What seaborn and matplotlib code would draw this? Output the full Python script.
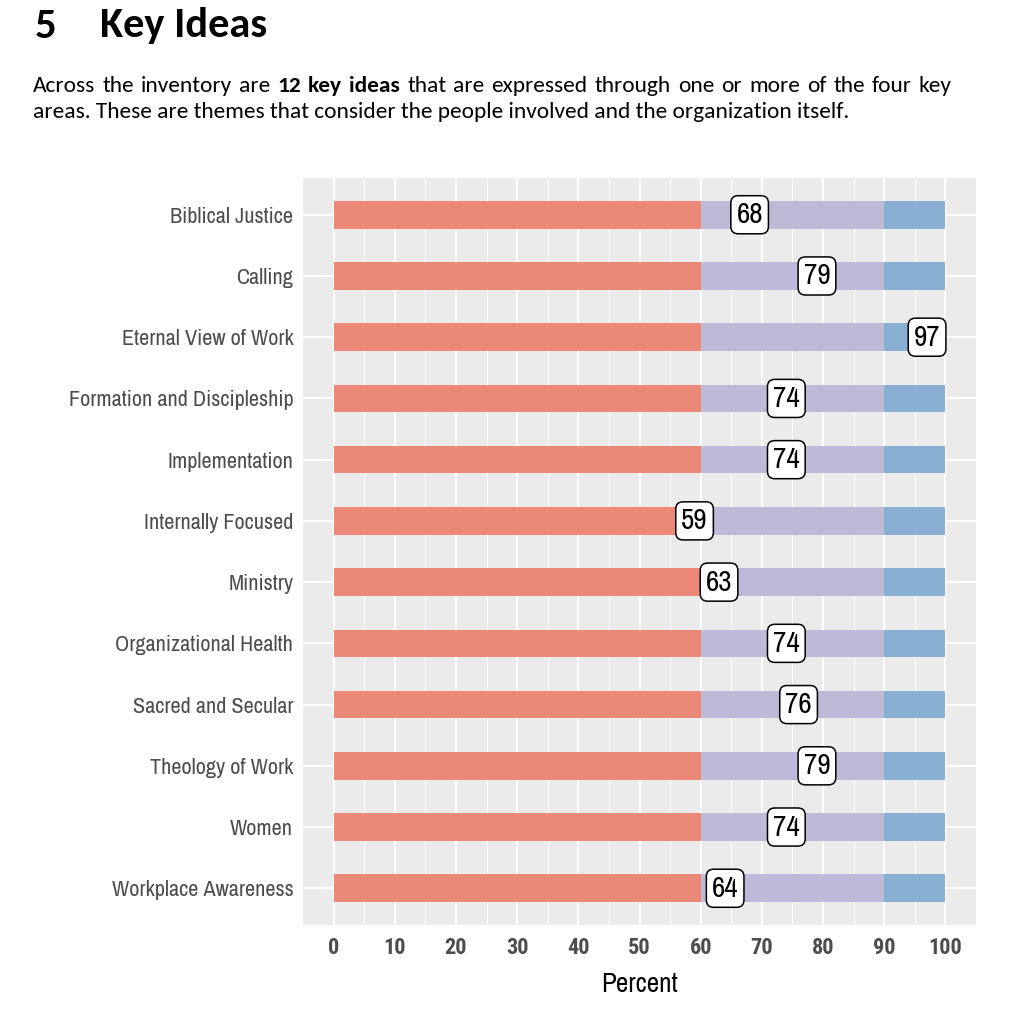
import matplotlib
matplotlib.use("Agg")
import matplotlib.pyplot as plt
import seaborn as sns
import pandas as pd

# --- data ---
ideas = ["Biblical Justice", "Calling", "Eternal View of Work",
         "Formation and Discipleship", "Implementation", "Internally Focused",
         "Ministry", "Organizational Health", "Sacred and Secular",
         "Theology of Work", "Women", "Workplace Awareness"]
scores = [68, 79, 97, 74, 74, 59, 63, 74, 76, 79, 74, 64]
# band edges (percent) for the three shaded zones
band_low = [60, 60, 60, 60, 60, 60, 60, 60, 60, 60, 60, 60]
band_mid = [90, 90, 90, 90, 90, 90, 90, 90, 90, 90, 90, 90]
band_top = [100, 100, 100, 100, 100, 100, 100, 100, 100, 100, 100, 100]
xticks = [0, 10, 20, 30, 40, 50, 60, 70, 80, 90, 100]

df = pd.DataFrame({"idea": ideas, "score": scores, "low": band_low,
                   "mid": band_mid, "top": band_top})

c_red = "#EC8878"
c_lav = "#BDBAD8"
c_blue = "#89B0D2"
grey_txt = "#4D4D4D"
narrow = ["Liberation Sans Narrow", "Archivo Narrow", "DejaVu Sans"]
narrow_bold = ["Roboto Condensed", "Asap Condensed", "DejaVu Sans"]

sns.set_style("white")
plt.rcParams["font.family"] = ["Carlito", "Lato", "DejaVu Sans"]
plt.rcParams["text.color"] = "black"

fig = plt.figure(figsize=(10.32, 10.16), dpi=100)
ax = fig.add_axes([303 / 1032, 1 - 925 / 1016, 673 / 1032, 747 / 1016])
ax.set_facecolor("#EBEBEB")

# stacked zones drawn as overlapping cumulative bars
sns.barplot(data=df, x="top", y="idea", color=c_blue, width=0.45,
            orient="h", ax=ax, saturation=1, zorder=3)
sns.barplot(data=df, x="mid", y="idea", color=c_lav, width=0.45,
            orient="h", ax=ax, saturation=1, zorder=3)
sns.barplot(data=df, x="low", y="idea", color=c_red, width=0.45,
            orient="h", ax=ax, saturation=1, zorder=3)
for p in ax.patches:
    p.set_linewidth(0)

for i, v in enumerate(df["score"]):
    ax.text(v, i, str(v), ha="center", va="center", fontsize=21,
            family=narrow, color="black", zorder=5,
            bbox=dict(boxstyle="round,pad=0.19,rounding_size=0.25",
                      fc="white", ec="black", lw=1.1))

ax.set_xlim(-5, 105)
ax.set_ylim(len(ideas) - 0.4, -0.6)
ax.set_xticks(xticks)
ax.set_xticks([5, 15, 25, 35, 45, 55, 65, 75, 85, 95], minor=True)
ax.grid(True, which="major", color="white", lw=1.5, zorder=0)
ax.grid(True, which="minor", axis="x", color="white", lw=0.7, zorder=0)
ax.set_axisbelow(True)
for s in ax.spines.values():
    s.set_visible(False)

ax.tick_params(axis="both", which="major", length=4, width=1.1,
               color="#333333", pad=3)
ax.tick_params(axis="x", which="major", pad=5)
ax.tick_params(axis="both", which="minor", length=0)
for lab in ax.get_yticklabels():
    lab.set_family(narrow)
    lab.set_fontsize(16)
    lab.set_color(grey_txt)
ax.set_xticklabels([str(t) for t in xticks], family=narrow_bold, fontsize=16,
                   fontweight="bold", color=grey_txt)
ax.set_ylabel("")
ax.set_xlabel("Percent", family=narrow, fontsize=19.5, color="black",
              labelpad=9)

# --- page header ---
fig.text(35 / 1032, 1 - 26 / 1016, "5", fontsize=31, fontweight="bold",
         va="center", ha="left", color="black")
fig.text(100 / 1032, 1 - 26 / 1016, "Key Ideas", fontsize=30.5,
         fontweight="bold", va="center", ha="left", color="black")

# justified first paragraph line
renderer = fig.canvas.get_renderer()
words = [("Across", False), ("the", False), ("inventory", False),
         ("are", False), ("12", True), ("key", True), ("ideas", True),
         ("that", False), ("are", False), ("expressed", False),
         ("through", False), ("one", False), ("or", False), ("more", False),
         ("of", False), ("the", False), ("four", False), ("key", False)]
fs = 16.8
x0, x1 = 33, 952
widths = []
objs = []
for w, b in words:
    t = fig.text(0, 1 - 92 / 1016, w, fontsize=fs, color="black",
                 fontweight="bold" if b else "normal", va="baseline")
    widths.append(t.get_window_extent(renderer).width)
    objs.append(t)
gap = (x1 - x0 - sum(widths)) / (len(words) - 1)
x = x0
for t, wd in zip(objs, widths):
    t.set_x(x / 1032)
    x += wd + gap

fig.text(33 / 1032, 1 - 118 / 1016,
         "areas. These are themes that consider the people involved and the organization itself.",
         fontsize=fs, va="baseline", color="black")

fig.savefig("out.png", dpi=100)
